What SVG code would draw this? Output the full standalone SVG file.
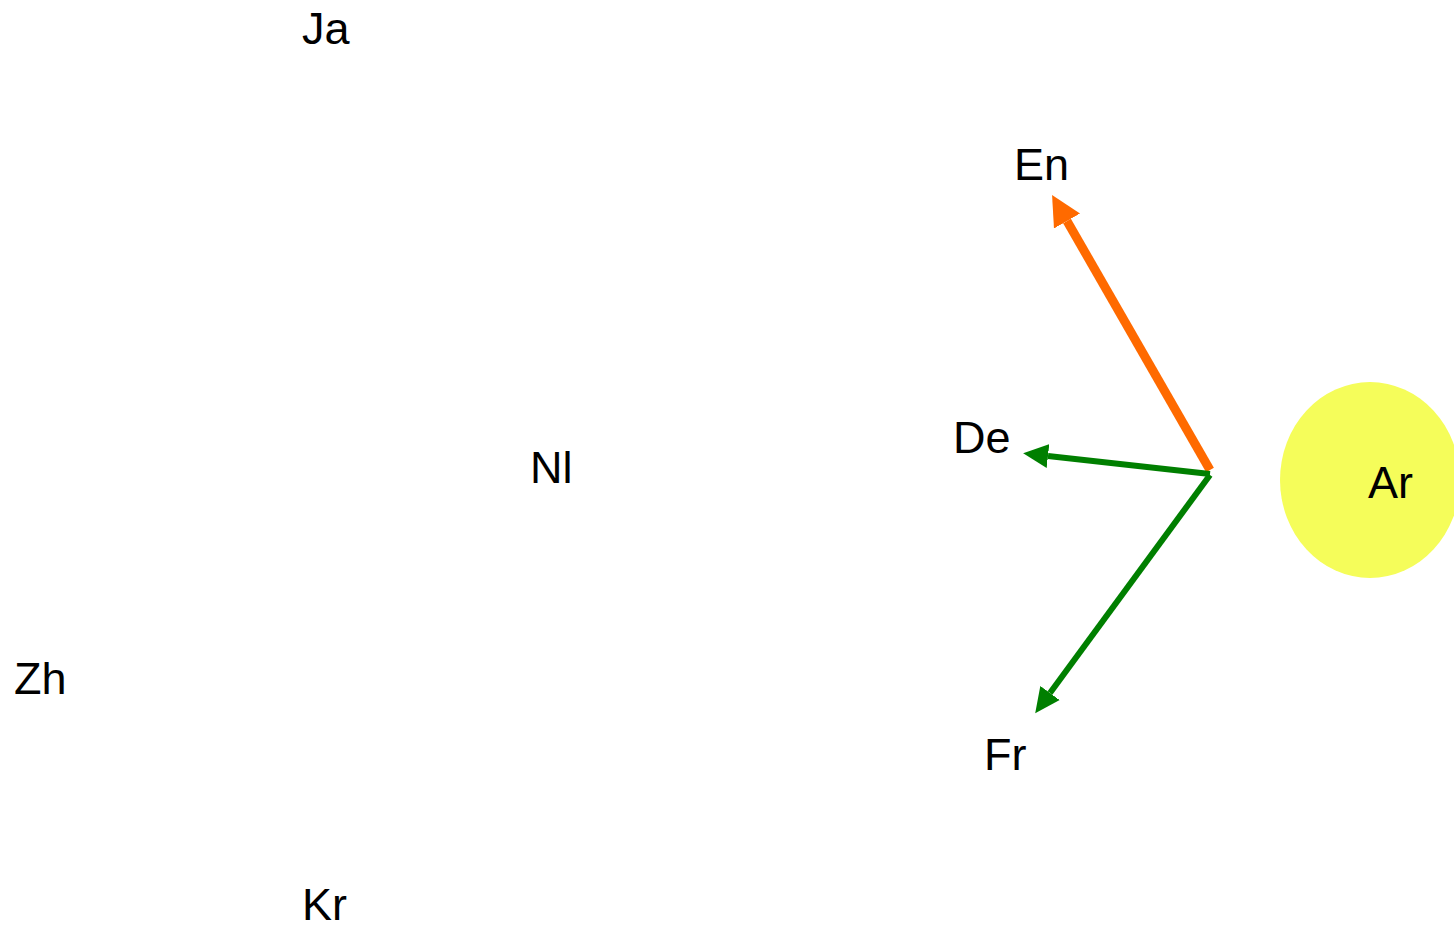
<svg xmlns="http://www.w3.org/2000/svg" width="1454" height="927" viewBox="0 0 1454 927">
  <style>
    .lbl { font-family: "Liberation Sans", Arial, sans-serif; font-size: 45px; fill: #000; }
    .orange { stroke: #ff6a00; stroke-width: 9; fill: none; }
    .green { stroke: #007f00; stroke-width: 6; fill: none; }
  </style>
  <defs>
    <marker id="headOrange" markerUnits="userSpaceOnUse" markerWidth="32" markerHeight="32" viewBox="0 -16 32 32" refX="0" refY="0" orient="auto">
      <path d="M0,-15 L30,0 L0,15 z" fill="#ff6a00"/>
    </marker>
    <marker id="headGreen" markerUnits="userSpaceOnUse" markerWidth="28" markerHeight="28" viewBox="0 -14 28 28" refX="0" refY="0" orient="auto">
      <path d="M0,-12 L25,0 L0,12 z" fill="#007f00"/>
    </marker>
  </defs>

  <g id="node-ar">
    <ellipse cx="1370" cy="480" rx="90" ry="98" fill="#f5fd5a"/>
    <text class="lbl" x="1368" y="498">Ar</text>
  </g>
  <g id="node-ja"><text class="lbl" x="302" y="44">Ja</text></g>
  <g id="node-en"><text class="lbl" x="1014" y="180">En</text></g>
  <g id="node-de"><text class="lbl" x="953" y="453">De</text></g>
  <g id="node-nl"><text class="lbl" x="530" y="483">Nl</text></g>
  <g id="node-zh"><text class="lbl" x="14" y="694">Zh</text></g>
  <g id="node-fr"><text class="lbl" x="984" y="770">Fr</text></g>
  <g id="node-kr"><text class="lbl" x="302" y="920">Kr</text></g>

  <g id="connectors">
    <path class="orange" d="M1210,470 L1067,221" marker-end="url(#headOrange)"/>
    <path class="green" d="M1210,474 L1048,456" marker-end="url(#headGreen)"/>
    <path class="green" d="M1210,475 L1050,693" marker-end="url(#headGreen)"/>
  </g>
</svg>
